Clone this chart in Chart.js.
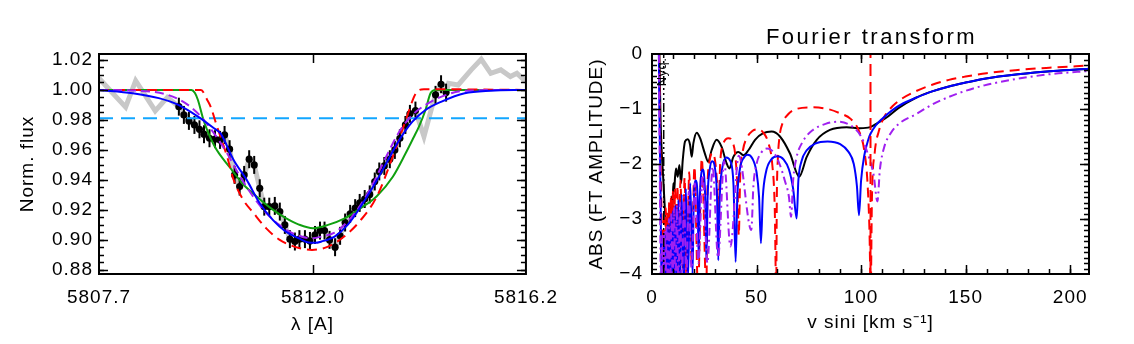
<!DOCTYPE html>
<html><head><meta charset="utf-8">
<script src="https://cdn.jsdelivr.net/npm/chart.js@4.4.1/dist/chart.umd.min.js"></script>
<style>
html,body{margin:0;padding:0;background:#fff;}
#wrap{position:relative;width:1134px;height:344px;overflow:hidden;}
#c1{position:absolute;left:0;top:0;}
#c2{position:absolute;left:567px;top:0;}
</style></head><body>
<div id="wrap"><canvas id="c1" width="567" height="344"></canvas><canvas id="c2" width="567" height="344"></canvas></div>
<script>
// ================= LEFT PANEL DATA =================
const obsWave = [5809.33,5809.43,5809.53,5809.64,5809.74,5809.83,5809.94,5810.05,5810.15,5810.24,5810.34,5810.44,5810.54,5810.63,5810.73,5810.83,5810.94,5811.03,5811.13,5811.24,5811.34,5811.44,5811.54,5811.64,5811.73,5811.84,5811.94,5812.04,5812.14,5812.23,5812.33,5812.44,5812.54,5812.64,5812.74,5812.84,5812.93,5813.03,5813.13,5813.23,5813.32,5813.42,5813.53,5813.63,5813.73,5813.84,5813.93,5814.04,5814.44,5814.55,5814.65];
const obsFlux = [0.9888,0.9833,0.9793,0.9766,0.9737,0.9704,0.9677,0.9671,0.9666,0.9699,0.9604,0.9432,0.9354,0.9432,0.9537,0.9499,0.9343,0.9220,0.9220,0.9225,0.9187,0.9098,0.9003,0.8987,0.9003,0.9003,0.8991,0.9031,0.9060,0.9060,0.8998,0.8949,0.9025,0.9114,0.9172,0.9210,0.9245,0.9271,0.9302,0.9388,0.9455,0.9492,0.9537,0.9599,0.9677,0.9766,0.9840,0.9862,0.9967,1.0038,0.9982];
const obsErr = [0.006,0.006,0.006,0.006,0.006,0.006,0.006,0.006,0.006,0.006,0.006,0.006,0.006,0.006,0.006,0.006,0.006,0.006,0.006,0.006,0.006,0.006,0.006,0.006,0.006,0.006,0.006,0.006,0.006,0.006,0.006,0.006,0.006,0.006,0.006,0.006,0.006,0.006,0.006,0.006,0.006,0.006,0.006,0.006,0.006,0.006,0.006,0.006,0.006,0.006,0.006];
const specWave = [5807.74,5808.27,5808.47,5808.86,5809.10,5809.33,5809.43,5809.53,5809.64,5809.74,5809.83,5809.94,5810.05,5810.15,5810.24,5810.34,5810.44,5810.54,5810.63,5810.73,5810.83,5810.94,5811.03,5811.13,5811.24,5811.34,5811.44,5811.54,5811.64,5811.73,5811.84,5811.94,5812.04,5812.14,5812.23,5812.33,5812.44,5812.54,5812.64,5812.74,5812.84,5812.93,5813.03,5813.13,5813.23,5813.32,5813.42,5813.53,5813.63,5813.73,5813.84,5813.93,5814.04,5814.21,5814.37,5814.44,5814.55,5814.65,5814.70,5814.89,5815.15,5815.35,5815.54,5815.74,5815.93,5816.06,5816.24];
const specFlux = [1.0078,0.9885,1.0062,0.9860,0.9950,0.9888,0.9833,0.9793,0.9766,0.9737,0.9704,0.9677,0.9671,0.9666,0.9699,0.9604,0.9432,0.9354,0.9432,0.9537,0.9499,0.9343,0.9220,0.9220,0.9225,0.9187,0.9098,0.9003,0.8987,0.9003,0.9003,0.8991,0.9031,0.9060,0.9060,0.8998,0.8949,0.9025,0.9114,0.9172,0.9210,0.9245,0.9271,0.9302,0.9388,0.9455,0.9492,0.9537,0.9599,0.9677,0.9766,0.9840,0.9862,0.9688,0.9888,0.9967,1.0038,0.9982,1.0044,1.0033,1.0134,1.0205,1.0111,1.0134,1.0089,1.0111,1.0056];
const redWave  = [5807.74,5809.77,5809.90,5809.96,5810.09,5810.29,5810.42,5810.61,5810.81,5811.07,5811.33,5811.72,5811.98,5812.30,5812.62,5812.95,5813.27,5813.59,5813.85,5814.05,5814.21,5816.24];
const redFlux  = [1.0,1.0,0.993,0.989,0.9755,0.9555,0.940,0.9266,0.918,0.9075,0.900,0.8944,0.8931,0.8953,0.902,0.913,0.9287,0.9555,0.980,0.9978,1.0005,1.0];
const greenWave = [5807.74,5809.58,5809.65,5809.71,5809.82,5810.03,5810.35,5810.61,5810.87,5811.20,5811.45,5811.72,5812.00,5812.30,5812.62,5812.95,5813.27,5813.59,5813.85,5814.00,5814.11,5814.24,5814.34,5814.44,5816.24];
const greenFlux = [1.0,1.0,0.998,0.9933,0.980,0.963,0.948,0.937,0.929,0.920,0.9145,0.910,0.9076,0.9098,0.914,0.921,0.929,0.942,0.958,0.968,0.9755,0.9866,0.9978,1.0,1.0];
const blueWave = [5807.74,5808.41,5808.93,5809.32,5809.71,5810.03,5810.16,5810.42,5810.68,5810.94,5811.20,5811.46,5811.72,5811.91,5812.04,5812.17,5812.43,5812.69,5812.95,5813.20,5813.46,5813.72,5813.98,5814.24,5814.56,5815.02,5815.54,5816.24];
const blueFlux = [1.0,0.9978,0.9945,0.990,0.9822,0.9744,0.971,0.9532,0.9399,0.9243,0.9132,0.9053,0.9009,0.898,0.8978,0.8987,0.902,0.9098,0.922,0.9354,0.951,0.9666,0.9788,0.9866,0.9922,0.9978,0.9995,1.0];
const purpleWave = [5807.74,5808.50,5809.12,5809.51,5809.77,5810.03,5810.29,5810.55,5810.81,5811.07,5811.33,5811.59,5811.98,5812.17,5812.43,5812.69,5812.95,5813.20,5813.46,5813.72,5813.98,5814.24,5814.56,5815.02,5816.24];
const purpleFlux = [1.0,0.9995,0.9966,0.990,0.9822,0.971,0.9577,0.9421,0.9287,0.9177,0.9098,0.9043,0.9009,0.902,0.9047,0.912,0.9232,0.9377,0.9555,0.9722,0.9833,0.990,0.9955,0.9995,1.0];
const refLevel = 0.981;
const leftXRange = [5807.74, 5816.24];
const leftYRange = [0.877, 1.024];
const leftXTicks = [5807.74, 5812.0, 5816.24];
const leftXLabels = ['5807.7', '5812.0', '5816.2'];
const leftYTicks = [0.88, 0.90, 0.92, 0.94, 0.96, 0.98, 1.00, 1.02];
const leftYLabels = ['0.88','0.90','0.92','0.94','0.96','0.98','1.00','1.02'];

// ================= RIGHT PANEL DATA =================
const ftBlackV = [3.4,4.1,5.4,6.3,7.1,7.6,8.0,8.3,8.8,9.4,9.8,10.2,10.6,11.0,11.5,12.3,13.1,13.9,14.7,15.8,17.1,18.2,19.0,19.8,21.4,23.0,25.3,26.9,28.5,30.9,33.3,35.7,37.0,38.9,41.3,43.7,46.1,49.3,53.2,57.2,61.2,66.0,70.4,74.0,78.8,85.1,93.1,99.5,104.3,109.0,112.0,118.0,126,134,142,150,159,175,192,209];
const ftBlackA = [0.3,-1.2,-2.28,-2.9,-3.25,-2.95,-3.2,-2.84,-3.05,-2.59,-2.8,-2.35,-2.5,-2.25,-2.08,-2.23,-2.02,-2.35,-1.93,-1.59,-1.55,-1.65,-1.87,-1.62,-1.43,-1.53,-1.81,-1.96,-1.75,-1.56,-1.69,-1.99,-2.08,-1.87,-1.78,-1.84,-1.75,-1.56,-1.44,-1.41,-1.50,-1.81,-2.23,-1.87,-1.56,-1.38,-1.33,-1.35,-1.33,-1.23,-1.16,-0.98,-0.8,-0.68,-0.59,-0.52,-0.45,-0.37,-0.31,-0.27];
const ftRedV = [3.3,3.9,4.6,5.2,5.7,6.2,6.6,7.0,7.4,7.8,8.2,8.6,9.0,9.5,10.0,10.5,11.0,11.6,12.2,12.8,13.6,14.6,15.6,16.6,17.8,19.0,20.3,22.0,23.8,26.0,26.5,27.5,28.8,30.2,31.2,31.8,32.6,34.0,36.5,38.5,40.0,41.0,41.5,42.2,43.5,45.5,48.0,50.5,53.0,55.5,57.5,58.7,59.4,59.7,60.2,61.0,62.5,65.0,69.0,76.5,84.0,90.0,95.0,99.0,101.5,103.0,104.0,104.6,105.2,106.5,108.5,111,115,120,126,134,142,150,160,175,190,209];
const ftRedA = [0.3,-1.5,-3.0,-4.3,-3.0,-3.9,-2.8,-4.3,-2.9,-3.6,-2.7,-4.1,-2.6,-3.5,-2.5,-4.2,-2.45,-3.7,-2.4,-4.2,-2.3,-3.9,-2.25,-4.3,-2.15,-3.8,-2.05,-4.3,-1.9,-4.3,-2.5,-1.95,-1.8,-1.95,-2.4,-2.9,-2.0,-1.65,-1.53,-1.6,-1.9,-2.6,-3.3,-2.2,-1.75,-1.52,-1.4,-1.37,-1.42,-1.6,-2.0,-2.8,-4.3,-2.6,-1.9,-1.5,-1.25,-1.1,-1.0,-0.97,-1.0,-1.08,-1.18,-1.4,-1.75,-2.3,-3.2,-4.3,-2.6,-1.8,-1.4,-1.15,-0.95,-0.8,-0.68,-0.56,-0.47,-0.41,-0.35,-0.29,-0.25,-0.21];
const ftBlueV = [3.2,3.6,4.1,4.6,5.3,5.8,6.4,7.0,7.6,8.2,8.8,9.4,10.0,10.6,11.2,11.9,12.6,13.4,14.2,15.2,16.2,17.2,18.3,19.4,19.9,20.9,21.8,22.3,22.8,23.5,24.2,25.0,25.6,26.0,26.6,27.6,28.8,30.2,31.1,31.7,32.4,33.5,35.5,37.5,39.0,40.0,40.8,42.0,44.0,45.8,48.0,50.0,51.2,52.1,53.0,54.5,57.0,60.0,63.0,65.5,67.5,69.2,70.0,71.5,74.0,78.0,84.0,90.0,94.0,96.5,98.0,99.0,100.0,101.5,103.5,104.5,107,110,115,120,126,134,142,150,159,175,192,209];
const ftBlueA = [0.3,-1.2,-2.6,-4.3,-3.4,-4.3,-3.3,-4.3,-3.1,-4.3,-2.95,-4.3,-2.85,-4.3,-2.75,-4.3,-2.65,-4.2,-2.55,-4.2,-2.45,-4.1,-2.35,-4.0,-2.8,-2.3,-2.6,-3.7,-2.7,-2.2,-2.1,-2.25,-2.8,-3.75,-2.6,-2.1,-1.95,-2.1,-2.6,-3.75,-2.6,-2.1,-1.88,-1.95,-2.4,-3.78,-2.6,-2.1,-1.88,-1.83,-1.9,-2.15,-2.6,-3.44,-2.6,-2.15,-1.92,-1.86,-1.92,-2.1,-2.45,-2.99,-2.3,-1.95,-1.75,-1.63,-1.59,-1.64,-1.78,-2.0,-2.4,-2.93,-2.3,-1.85,-1.55,-1.45,-1.3,-1.18,-1.02,-0.9,-0.8,-0.68,-0.59,-0.52,-0.45,-0.37,-0.31,-0.27];
const ftPurpleV = [3.3,3.6,3.9,4.3,5.0,5.5,6.0,6.5,7.0,7.5,8.1,8.7,9.3,9.9,10.5,11.2,11.9,12.6,13.4,14.3,15.3,16.4,17.6,18.9,20.5,22.2,24.2,26.5,29.0,31.6,34.5,37.5,41.5,47.5,48.5,50.0,52.5,55.0,58.0,61.0,63.5,65.5,66.5,67.5,69.0,72.0,77.0,83.0,89.0,95.0,100.0,103.5,106.0,107.8,109.0,111.0,114.0,118.0,126,134,142,150,159,175,192,209];
const ftPurpleA = [0.3,-1.5,-3.0,-4.3,-3.3,-4.3,-3.2,-4.3,-3.1,-4.3,-3.0,-4.3,-2.9,-4.3,-2.8,-4.3,-2.75,-4.3,-2.7,-4.2,-2.6,-4.1,-2.5,-3.9,-2.35,-3.8,-2.2,-3.8,-2.05,-3.7,-1.95,-3.5,-1.85,-3.2,-2.4,-2.0,-1.78,-1.72,-1.78,-2.0,-2.3,-2.6,-2.96,-2.3,-1.9,-1.6,-1.38,-1.27,-1.23,-1.3,-1.5,-1.85,-2.2,-2.68,-2.1,-1.7,-1.45,-1.27,-1.1,-0.92,-0.78,-0.67,-0.57,-0.45,-0.36,-0.31];
const vsiniLineV = 104.5;
const nyqV = 5.6;
const rightXRange = [0, 209];
const rightYRange = [-4, 0];
const rightXTicks = [0, 50, 100, 150, 200];
const rightXLabels = ['0', '50', '100', '150', '200'];
const rightYTicks = [0, -1, -2, -3, -4];
const rightYLabels = ['0', '\u22121', '\u22122', '\u22123', '\u22124'];

// ================= helpers =================
const FONT = '"Liberation Sans", Arial, Helvetica, sans-serif';
const xy = (xs, ys) => xs.map((x, i) => ({x: x, y: ys[i]}));
function stepList(a, b, s) { const out = []; for (let v = a; v <= b + 1e-9; v += s) out.push(+v.toFixed(6)); return out; }

const spacing = {
  id: 'spacing',
  beforeDraw(chart) { chart.ctx.letterSpacing = '1px'; }
};

function frameTicks(opt) {
  return {
    id: 'frameTicks',
    afterDraw(chart) {
      const {ctx, chartArea: a, scales} = chart;
      const sx = scales.x, sy = scales.y;
      ctx.save();
      ctx.strokeStyle = '#000';
      ctx.lineWidth = 1.5;
      const tx = (vals, len) => vals.forEach(v => {
        const p = Math.round(sx.getPixelForValue(v)) + 0.5;
        if (p < a.left + 1 || p > a.right - 1) return;
        ctx.beginPath(); ctx.moveTo(p, a.bottom); ctx.lineTo(p, a.bottom - len);
        ctx.moveTo(p, a.top); ctx.lineTo(p, a.top + len); ctx.stroke();
      });
      const ty = (vals, len) => vals.forEach(v => {
        const p = Math.round(sy.getPixelForValue(v)) + 0.5;
        if (p < a.top + 1 || p > a.bottom - 1) return;
        ctx.beginPath(); ctx.moveTo(a.left, p); ctx.lineTo(a.left + len, p);
        ctx.moveTo(a.right, p); ctx.lineTo(a.right - len, p); ctx.stroke();
      });
      tx(opt.xMinor, 5); tx(opt.xMajor, 9);
      ty(opt.yMinor, 5); ty(opt.yMajor, 9);
      ctx.lineWidth = 2;
      ctx.strokeRect(a.left, a.top, a.right - a.left, a.bottom - a.top);
      if (opt.title) {
        ctx.fillStyle = '#000';
        ctx.font = '22px ' + FONT;
        ctx.letterSpacing = '2.5px';
        ctx.textAlign = 'center';
        ctx.textBaseline = 'middle';
        ctx.fillText(opt.title, (a.left + a.right) / 2 + 1, 38);
      }
      if (opt.nyq !== undefined) {
        const p = sx.getPixelForValue(opt.nyq);
        ctx.save();
        ctx.translate(p - 1, a.top + 18);
        ctx.rotate(-Math.PI / 2);
        ctx.font = '13px ' + FONT;
        ctx.letterSpacing = '0.5px';
        ctx.fillStyle = '#000';
        ctx.textAlign = 'center';
        ctx.textBaseline = 'middle';
        ctx.fillText('Nyq.', 0, 0);
        ctx.restore();
      }
      ctx.restore();
    }
  };
}

const errorBars = {
  id: 'errorBars',
  beforeDatasetDraw(chart, args) {
    if (args.index !== 1) return;
    const {ctx, scales: {x, y}} = chart;
    ctx.save();
    ctx.strokeStyle = '#000';
    ctx.lineWidth = 2;
    obsWave.forEach((w, i) => {
      const px = x.getPixelForValue(w);
      ctx.beginPath();
      ctx.moveTo(px, y.getPixelForValue(obsFlux[i] - obsErr[i]));
      ctx.lineTo(px, y.getPixelForValue(obsFlux[i] + obsErr[i]));
      ctx.stroke();
    });
    ctx.restore();
  }
};

function axisCommon(ticksVals, labels, fitSize, isX, titleText, titlePad, tickPad) {
  return {
    type: 'linear',
    afterBuildTicks: s => { s.ticks = ticksVals.map(v => ({value: v})); },
    afterFit: s => { if (isX) s.height = fitSize; else s.width = fitSize; },
    grid: {display: false, drawTicks: false},
    border: {display: false},
    ticks: {
      autoSkip: false, maxRotation: 0, padding: tickPad,
      color: '#000', font: {family: FONT, size: 19},
      callback: (v, i) => labels[i]
    },
    title: {display: true, text: titleText, color: '#000', font: {family: FONT, size: 19}, padding: titlePad}
  };
}

// ================= LEFT CHART =================
const lx = axisCommon(leftXTicks, leftXLabels, 70, true, '\u03bb [A]', {top: 0, bottom: 8}, 12);
lx.min = leftXRange[0]; lx.max = leftXRange[1];
const ly = axisCommon(leftYTicks, leftYLabels, 99, false, 'Norm. flux', {top: 16, bottom: 0}, 6);
ly.min = leftYRange[0]; ly.max = leftYRange[1];

new Chart(document.getElementById('c1'), {
  type: 'line',
  data: {
    datasets: [
      {data: xy(specWave, specFlux), borderColor: '#c8c8c8', borderWidth: 5, pointRadius: 0, order: 10, clip: 0},
      {data: xy(obsWave, obsFlux), showLine: false, pointRadius: 3.6, pointBackgroundColor: '#000', pointBorderWidth: 0, order: 9, clip: 0},
      {data: xy(leftXRange, [refLevel, refLevel]), borderColor: '#12a6ff', borderWidth: 2, borderDash: [14, 8], pointRadius: 0, order: 8, clip: 0},
      {data: xy(greenWave, greenFlux), borderColor: '#10a010', borderWidth: 2, pointRadius: 0, cubicInterpolationMode: 'monotone', order: 7, clip: 0},
      {data: xy(redWave, redFlux), borderColor: '#ff0000', borderWidth: 2, borderDash: [10, 6], pointRadius: 0, cubicInterpolationMode: 'monotone', order: 6, clip: 0},
      {data: xy(purpleWave, purpleFlux), borderColor: '#a020f0', borderWidth: 2, borderDash: [9, 5], pointRadius: 0, cubicInterpolationMode: 'monotone', order: 5, clip: 0},
      {data: xy(blueWave, blueFlux), borderColor: '#0000ff', borderWidth: 2, pointRadius: 0, cubicInterpolationMode: 'monotone', order: 4, clip: 0}
    ]
  },
  options: {
    responsive: false, animation: false, devicePixelRatio: 1,
    layout: {padding: {left: 0, right: 31, top: 54, bottom: 0}},
    plugins: {legend: {display: false}, tooltip: {enabled: false}},
    scales: {x: lx, y: ly}
  },
  plugins: [spacing, errorBars, frameTicks({xMajor: [5812.0], xMinor: [], yMajor: leftYTicks, yMinor: stepList(0.88, 1.02, 0.005)})]
});

// ================= RIGHT CHART =================
const rx = axisCommon(rightXTicks, rightXLabels, 70, true, 'v sini [km s\u207b\u00b9]', {top: 0, bottom: 10}, 12);
rx.min = rightXRange[0]; rx.max = rightXRange[1];
const ry = axisCommon(rightYTicks, rightYLabels, 85, false, 'ABS (FT AMPLITUDE)', {top: 18, bottom: 0}, 9);
ry.min = rightYRange[0]; ry.max = rightYRange[1];

new Chart(document.getElementById('c2'), {
  type: 'line',
  data: {
    datasets: [
      {data: xy(ftBlackV, ftBlackA), borderColor: '#000', borderWidth: 2, pointRadius: 0, cubicInterpolationMode: 'monotone', order: 10, clip: 0},
      {data: xy(ftRedV, ftRedA), borderColor: '#ff0000', borderWidth: 2, borderDash: [10, 6], pointRadius: 0, cubicInterpolationMode: 'monotone', order: 9, clip: 0},
      {data: xy(ftBlueV, ftBlueA), borderColor: '#0000ff', borderWidth: 2, pointRadius: 0, cubicInterpolationMode: 'monotone', order: 8, clip: 0},
      {data: xy(ftPurpleV, ftPurpleA), borderColor: '#a020f0', borderWidth: 2, borderDash: [8, 4, 2, 4], pointRadius: 0, cubicInterpolationMode: 'monotone', order: 7, clip: 0},
      {data: xy([vsiniLineV, vsiniLineV], rightYRange), borderColor: '#ff0000', borderWidth: 2, borderDash: [12, 6], pointRadius: 0, order: 6, clip: 0},
      {data: xy([nyqV, nyqV], rightYRange), borderColor: '#000', borderWidth: 1.5, borderDash: [9, 3, 2, 3, 2, 3, 2, 3], pointRadius: 0, order: 5, clip: 0}
    ]
  },
  options: {
    responsive: false, animation: false, devicePixelRatio: 1,
    layout: {padding: {left: 0, right: 45, top: 54, bottom: 0}},
    plugins: {legend: {display: false}, tooltip: {enabled: false}},
    scales: {x: rx, y: ry}
  },
  plugins: [spacing, frameTicks({xMajor: rightXTicks, xMinor: stepList(0, 209, 10), yMajor: rightYTicks, yMinor: stepList(-4, 0, 0.1), title: 'Fourier transform', nyq: nyqV})]
});
</script>
</body></html>
